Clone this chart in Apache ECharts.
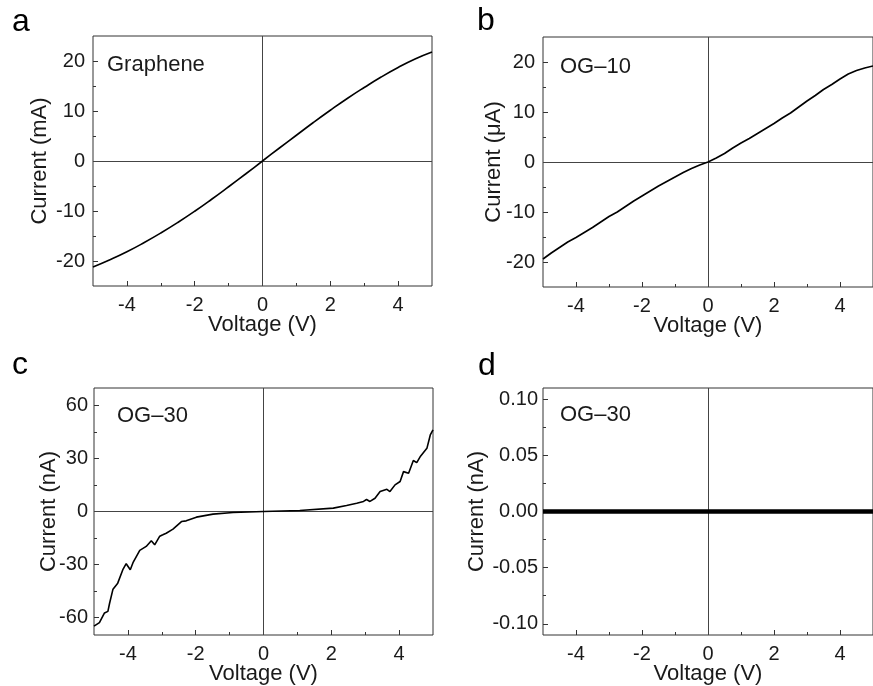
<!DOCTYPE html>
<html>
<head>
<meta charset="utf-8">
<script src="https://cdn.jsdelivr.net/npm/echarts@6/dist/echarts.min.js"></script>
<style>
  html, body { margin: 0; padding: 0; background: #fff; }
  #main { width: 873px; height: 686px; }
</style>
</head>
<body>
<div id="main"></div>
<script>
// voltage sweep (V)
var voltA = [-5, -4.5, -4, -3.5, -3, -2.5, -2, -1.5, -1, -0.5, 0, 0.5, 1, 1.5, 2, 2.5, 3, 3.5, 4, 4.5, 5];
// a: graphene, mA
var currA = [-21.2, -19.75, -18.15, -16.35, -14.4, -12.3, -10.05, -7.65, -5.15, -2.6, 0, 2.6, 5.15, 7.7, 10.15, 12.5, 14.7, 16.8, 18.7, 20.4, 21.8];

// b: OG-10, uA
var voltB = [-5, -4.75, -4.5, -4.25, -4, -3.75, -3.5, -3.25, -3, -2.75, -2.5, -2.25, -2, -1.75, -1.5, -1.25, -1, -0.75, -0.5, -0.25,
             0, 0.25, 0.5, 0.75, 1, 1.25, 1.5, 1.75, 2, 2.25, 2.5, 2.75, 3, 3.25, 3.5, 3.75, 4, 4.25, 4.5, 4.75, 5];
var currB = [-19.4, -18.2, -17.1, -16.0, -15.1, -14.1, -13.1, -12.0, -10.9, -10.0, -8.9, -7.8, -6.8, -5.8, -4.8, -3.9, -3.0, -2.1, -1.3, -0.6,
             0, 0.8, 1.7, 2.8, 3.8, 4.7, 5.7, 6.7, 7.7, 8.8, 9.8, 11.0, 12.2, 13.3, 14.5, 15.5, 16.6, 17.6, 18.3, 18.8, 19.2];

// c: OG-30, nA
var voltC = [-5, -4.84, -4.69, -4.59, -4.54, -4.44, -4.3, -4.15, -4.05, -3.93, -3.85, -3.65, -3.46, -3.31, -3.21, -3.06, -2.97, -2.87,
             -2.67, -2.42, -2.28, -1.98, -1.49, -0.9, 0, 1.07, 2.06, 2.45, 2.75, 2.95, 3.04, 3.14, 3.29, 3.44, 3.64, 3.73, 3.88,
             4.03, 4.13, 4.28, 4.42, 4.52, 4.62, 4.82, 4.92, 5];
var currC = [-65, -63, -57.5, -56.6, -52, -44, -40.6, -33, -29.6, -33, -29, -22, -19.8, -16.6, -18.9, -14, -13.2, -12.3,
             -10, -5.7, -5.3, -3.2, -1.5, -0.6, 0, 0.6, 1.9, 3.4, 4.7, 5.7, 6.8, 5.7, 7.5, 11.3, 12.6, 11.3, 15.1,
             17, 22.6, 21.7, 28.9, 27.7, 31, 35.8, 43.4, 46.2];

// d: OG-30 (low range), nA
var voltD = [-5, -4, -3, -2, -1, 0, 1, 2, 3, 4, 5];
var currD = [0, 0, 0, 0, 0, 0, 0, 0, 0, 0, 0];

var xMajor = [-4, -2, 0, 2, 4];
var xMinor = [-3, -1, 1, 3];
var yMajorAB = [-20, -10, 0, 10, 20];
var yMinorAB = [-15, -5, 5, 15];
var yMajorC = [-60, -30, 0, 30, 60];
var yMinorC = [-45, -15, 15, 45];
var yMajorD = [-0.1, -0.05, 0, 0.05, 0.1];
var yMinorD = [-0.075, -0.025, 0.025, 0.075];

var panelLetters = ['a', 'b', 'c', 'd'];
var panelNames = ['Graphene', 'OG\u201310', 'OG\u201330', 'OG\u201330'];
var yTitles = ['Current (mA)', 'Current (\u03bcA)', 'Current (nA)', 'Current (nA)'];

var FONT = '"Liberation Sans", Arial, Helvetica, sans-serif';
var INK = '#1a1a1a';

var grids = [
    { left: 93, top: 36, width: 339, height: 250 },
    { left: 543, top: 37, width: 339, height: 250 },
    { left: 94, top: 388, width: 339, height: 249 },
    { left: 543, top: 388, width: 339, height: 249 }
];
var yRanges = [[-25, 25], [-25, 25], [-70, 70], [-0.11, 0.11]];
var yMajors = [yMajorAB, yMajorAB, yMajorC, yMajorD];
var yMinors = [yMinorAB, yMinorAB, yMinorC, yMinorD];
var yNameGap = [42, 38, 34, 55];
var yLabelMargin = [8, 8, 6, 5];
var pairs = [[voltA, currA], [voltB, currB], [voltC, currC], [voltD, currD]];

var xAxes = [], yAxes = [], series = [];
grids.forEach(function (g, i) {
    g.show = true;
    g.borderColor = '#333';
    g.borderWidth = 1;
    g.containLabel = false;

    xAxes.push({
        type: 'value', gridIndex: i, min: -5, max: 5, position: 'bottom',
        name: 'Voltage (V)', nameLocation: 'middle', nameGap: 28, nameMoveOverlap: false,
        nameTextStyle: { fontFamily: FONT, fontSize: 22, color: INK },
        axisLine: { show: false, onZero: false },
        axisTick: { show: true, inside: true, length: 5, customValues: xMajor, lineStyle: { color: '#333' } },
        axisLabel: { customValues: xMajor, margin: 9, fontFamily: FONT, fontSize: 20, color: INK },
        splitLine: { show: false }
    });
    xAxes.push({
        type: 'value', gridIndex: i, min: -5, max: 5, position: 'bottom', offset: 0,
        axisLine: { show: false, onZero: false },
        axisTick: { show: true, inside: true, length: 3, customValues: xMinor, lineStyle: { color: '#333' } },
        axisLabel: { show: false },
        splitLine: { show: false }
    });

    var yr = yRanges[i];
    yAxes.push({
        type: 'value', gridIndex: i, min: yr[0], max: yr[1], position: 'left',
        name: yTitles[i], nameLocation: 'middle', nameGap: yNameGap[i], nameMoveOverlap: false,
        nameTextStyle: { fontFamily: FONT, fontSize: 22, color: INK },
        axisLine: { show: false, onZero: false },
        axisTick: { show: true, inside: true, length: 5, customValues: yMajors[i], lineStyle: { color: '#333' } },
        axisLabel: {
            customValues: yMajors[i], margin: yLabelMargin[i], fontFamily: FONT, fontSize: 20, color: INK,
            formatter: function (v) { return i === 3 ? v.toFixed(2) : String(Math.round(v)); }
        },
        splitLine: { show: false }
    });
    yAxes.push({
        type: 'value', gridIndex: i, min: yr[0], max: yr[1], position: 'left', offset: 0,
        axisLine: { show: false, onZero: false },
        axisTick: { show: true, inside: true, length: 3, customValues: yMinors[i], lineStyle: { color: '#333' } },
        axisLabel: { show: false },
        splitLine: { show: false }
    });

    // zero lines, drawn under the curve
    series.push({
        type: 'line',
        xAxisIndex: i * 2, yAxisIndex: i * 2,
        data: [],
        z: 1,
        markLine: {
            silent: true, symbol: 'none', animation: false, z: 1,
            label: { show: false },
            lineStyle: { color: '#444', width: 1, type: 'solid' },
            data: [{ xAxis: 0 }, { yAxis: 0 }]
        }
    });

    var v = pairs[i][0], c = pairs[i][1];
    series.push({
        type: 'line',
        xAxisIndex: i * 2, yAxisIndex: i * 2,
        data: v.map(function (x, k) { return [x, c[k]]; }),
        showSymbol: false,
        smooth: i === 0 ? true : false,
        lineStyle: { color: '#000', width: i === 3 ? 4.5 : 1.6 },
        z: 3
    });
});

var letterPos = [[12, 38], [477, 37], [12, 381], [478, 382]];
var namePos = [[107, 65], [560, 67], [117, 416], [560, 415]];
var graphics = [];
panelLetters.forEach(function (t, i) {
    graphics.push({
        type: 'text', x: letterPos[i][0], y: letterPos[i][1],
        style: { text: t, font: '32px ' + FONT, fill: '#000', textVerticalAlign: 'bottom' }
    });
    graphics.push({
        type: 'text', x: namePos[i][0], y: namePos[i][1],
        style: { text: panelNames[i], font: '22px ' + FONT, fill: INK, textVerticalAlign: 'middle' }
    });
});

var myChart = echarts.init(document.getElementById('main'));
var option = {
    animation: false,
    backgroundColor: '#fff',
    grid: grids,
    xAxis: xAxes,
    yAxis: yAxes,
    series: series,
    graphic: graphics
};
myChart.setOption(option);
window.onresize = myChart.resize;
</script>
</body>
</html>
